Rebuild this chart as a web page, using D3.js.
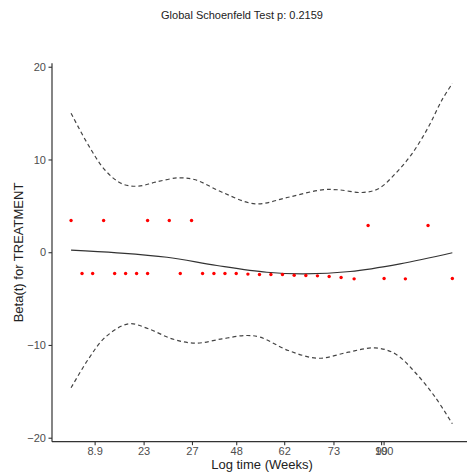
<!DOCTYPE html>
<html>
<head>
<meta charset="utf-8">
<script src="https://cdn.jsdelivr.net/npm/d3@7"></script>
<style>
  html, body { margin: 0; padding: 0; background: #fff; }
  svg { display: block; font-family: "Liberation Sans", Arial, sans-serif; }
</style>
</head>
<body>
<svg id="chart" width="467" height="475"></svg>
<script>
// ---- Data (transformed time on a 0..1 scale, beta(t) values) ----
const titleText = "Global Schoenfeld Test p: 0.2159";
const xTitle = "Log time (Weeks)";
const yTitle = "Beta(t) for TREATMENT";

const xTickPos = [0.0618, 0.1903, 0.3171, 0.4332, 0.559, 0.6882, 0.8132, 0.8197];
const xTickLabels = ["8.9", "23", "27", "48", "62", "73", "99", "100"];
const yTicks = [-20, -10, 0, 10, 20];

const residTime = [0, 0.0288, 0.0566, 0.0854, 0.1143, 0.1431, 0.1719, 0.2007, 0.2007,
  0.2576, 0.2864, 0.316, 0.3449, 0.3747, 0.4036, 0.4332, 0.4638, 0.4942, 0.5241,
  0.5545, 0.5852, 0.6158, 0.6462, 0.6769, 0.7083, 0.7424, 0.7791, 0.821, 0.8768,
  0.9363, 1.0];
const residBeta = [3.42, -2.30, -2.30, 3.42, -2.30, -2.30, -2.30, 3.42, -2.30,
  3.42, -2.30, 3.42, -2.30, -2.30, -2.30, -2.30, -2.36, -2.40, -2.40,
  -2.40, -2.48, -2.51, -2.55, -2.62, -2.73, -2.87, 2.88, -2.84, -2.87,
  2.88, -2.84];

const fitTime = [0, 0.1205, 0.2516, 0.3826, 0.5136, 0.6095, 0.7319, 0.8629, 1.0];
const fitBeta = [0.22, -0.06, -0.54, -1.43, -2.16, -2.33, -2.08, -1.25, -0.06];

const upperTime = [0, 0.046, 0.090, 0.134, 0.177, 0.221, 0.282, 0.326, 0.396, 0.483,
  0.570, 0.658, 0.701, 0.763, 0.806, 0.850, 0.894, 0.937, 0.972, 1.0];
const upperBeta = [14.99, 11.50, 8.81, 7.37, 7.12, 7.55, 8.02, 7.81, 6.47, 5.22,
  5.93, 6.73, 6.73, 6.44, 6.84, 8.45, 10.61, 13.48, 16.36, 18.2];

const lowerTime = [0, 0.046, 0.090, 0.151, 0.203, 0.265, 0.326, 0.396, 0.457, 0.496,
  0.570, 0.649, 0.727, 0.797, 0.850, 0.902, 0.955, 1.0];
const lowerBeta = [-14.62, -11.49, -9.16, -7.72, -8.26, -9.34, -9.81, -9.34, -8.98, -9.16,
  -10.60, -11.43, -10.78, -10.31, -10.95, -12.94, -15.63, -18.50];

// ---- Layout ----
const svg = d3.select("#chart");
const panel = { left: 52, right: 471.4, top: 63.3, bottom: 441.7 };

const x = d3.scaleLinear().domain([-0.05, 1.05]).range([panel.left, panel.right]);
const y = d3.scaleLinear().domain([-20.43, 20.37]).range([panel.bottom, panel.top]);

// Title
svg.append("text")
  .attr("x", 242).attr("y", 18.5)
  .attr("text-anchor", "middle")
  .attr("font-size", 11).attr("fill", "#222")
  .text(titleText);

// Lines
const lineGen = (ts, vs) => d3.line()
  .x((d, i) => x(ts[i])).y((d, i) => y(vs[i]))
  .curve(d3.curveCatmullRom.alpha(0.5))(ts);

svg.append("path").attr("d", lineGen(upperTime, upperBeta))
  .attr("fill", "none").attr("stroke", "#444").attr("stroke-width", 1.2)
  .attr("stroke-dasharray", "4,3");
svg.append("path").attr("d", lineGen(lowerTime, lowerBeta))
  .attr("fill", "none").attr("stroke", "#444").attr("stroke-width", 1.2)
  .attr("stroke-dasharray", "4,3");
svg.append("path").attr("d", lineGen(fitTime, fitBeta))
  .attr("fill", "none").attr("stroke", "#333").attr("stroke-width", 1.2);

// Points
svg.append("g").selectAll("circle")
  .data(residTime)
  .join("circle")
  .attr("cx", d => x(d))
  .attr("cy", (d, i) => y(residBeta[i]))
  .attr("r", 1.7)
  .attr("fill", "#ff0000");

// Axes
const xAxis = d3.axisBottom(x)
  .tickValues(xTickPos)
  .tickFormat((d, i) => xTickLabels[i])
  .tickSize(3.5).tickPadding(2.5).tickSizeOuter(0);
const gx = svg.append("g").attr("transform", `translate(0,${panel.bottom})`).call(xAxis);

const yAxis = d3.axisLeft(y)
  .tickValues(yTicks)
  .tickFormat(d3.format("d"))
  .tickSize(3.5).tickPadding(2.5).tickSizeOuter(0);
const gy = svg.append("g").attr("transform", `translate(${panel.left},0)`).call(yAxis);

[gx, gy].forEach(g => {
  g.select(".domain").attr("stroke", "#333").attr("stroke-width", 1.2);
  g.selectAll(".tick line").attr("stroke", "#333").attr("stroke-width", 1.1);
  g.selectAll(".tick text").attr("fill", "#4d4d4d")
    .attr("font-size", 11).attr("font-family", "Liberation Sans, Arial, sans-serif");
});
// the x domain line starts at the y axis
gx.select(".domain").attr("d", `M${panel.left},0H${panel.right}`);
gy.select(".domain").attr("d", `M0,${panel.top}V${panel.bottom}`);

// Axis titles
svg.append("text")
  .attr("x", 262).attr("y", 469)
  .attr("text-anchor", "middle")
  .attr("font-size", 13).attr("fill", "#222")
  .text(xTitle);

svg.append("text")
  .attr("transform", "translate(22.5,252.5) rotate(-90)")
  .attr("text-anchor", "middle")
  .attr("font-size", 13).attr("fill", "#222")
  .text(yTitle);
</script>
</body>
</html>
